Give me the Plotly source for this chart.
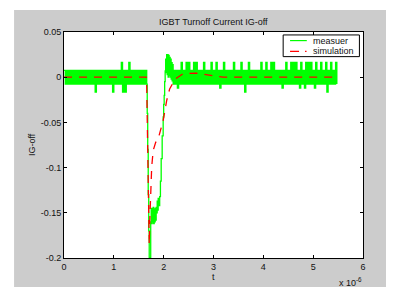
import plotly.graph_objects as go

# ---------------- data (time in microseconds, current in A) ----------------
# measured trace: noisy plateau before turn-off, one sample every 0.025 us from t=0
meas_pre_dt = 0.025
meas_pre = [
    0.0076, -0.0076, 0.0076, -0.0076, 0.0076, -0.0076, 0.0076, -0.0076, 0.0076, -0.0076,
    0.0076, -0.0076, 0.0076, -0.0076, 0.0076, -0.0076, 0.0076, -0.0076, 0.0076, -0.0076,
    0.0076, -0.0076, 0.0076, -0.0076, 0.0076, -0.0165, 0.0076, -0.0076, 0.0076, -0.0076,
    0.0076, -0.0076, 0.0076, -0.0076, 0.0076, -0.0076, 0.0076, -0.0076, 0.0076, -0.0165,
    0.0076, -0.0076, 0.0076, -0.0076, 0.0076, -0.0076, 0.0165, -0.0165, 0.0076, -0.0165,
    0.0076, -0.0076, 0.0165, -0.0076, 0.0076, -0.0076, 0.0076, -0.0076, 0.0076, -0.0076,
    0.0076, -0.0076, 0.0076, -0.0076, 0.0076, -0.0076, 0.0076,
]
# measured turn-off transient
meas_tr_t = [1.66, 1.67, 1.68, 1.69, 1.70, 1.71, 1.73, 1.74, 1.75, 1.76, 1.77, 1.78,
             1.79, 1.80, 1.81, 1.82, 1.83, 1.84, 1.85, 1.86, 1.87, 1.88, 1.89, 1.90,
             1.92, 1.935, 1.95, 1.97, 1.99, 2.00, 2.01, 2.02, 2.03, 2.04, 2.05, 2.06,
             2.07, 2.08, 2.09, 2.10, 2.11, 2.12, 2.13, 2.14, 2.15, 2.16, 2.17, 2.18, 2.19]
meas_tr_v = [-0.0076, -0.04, -0.08, -0.13, -0.17, -0.2, -0.2, -0.16, -0.145, -0.162, -0.145, -0.16,
             -0.144, -0.162, -0.146, -0.16, -0.145, -0.158, -0.144, -0.15, -0.137, -0.147, -0.134, -0.142,
             -0.132, -0.115, -0.09, -0.065, -0.044, -0.03, -0.02, -0.005, 0.007, 0.02, 0.005, 0.025,
             0.003, 0.025, 0.0, 0.024, 0.002, 0.022, 0.0, 0.02, -0.002, 0.016, -0.004, 0.014, -0.0076]
# measured trace: noisy plateau after turn-off, one sample every 0.025 us from t=2.2
meas_post_t0 = 2.2
meas_post = [
    0.0076, -0.0076, 0.0076, -0.012, 0.0076, -0.0076, 0.0165, -0.0076, 0.0076, -0.0076,
    0.0165, -0.0076, 0.0165, -0.0076, 0.0076, -0.0076, 0.0165, -0.0076, 0.0165, -0.0076,
    0.0076, -0.0076, 0.0076, -0.0076, 0.0165, -0.0076, 0.0076, -0.0076, 0.0076, -0.0076,
    0.0165, -0.0076, 0.0076, -0.0076, 0.0165, -0.0076, 0.0076, -0.012, 0.0076, -0.0076,
    0.0165, -0.0076, 0.0076, -0.0076, 0.0076, -0.0076, 0.0076, -0.0076, 0.0165, -0.0076,
    0.0076, -0.0076, 0.0076, -0.0076, 0.0165, -0.0076, 0.0076, -0.0165, 0.0076, -0.0076,
    0.0165, -0.0076, 0.0076, -0.0076, 0.0076, -0.0076, 0.0076, -0.0076, 0.0076, -0.0076,
    0.0165, -0.0076, 0.0076, -0.0076, 0.0165, -0.0076, 0.0076, -0.0076, 0.0165, -0.0076,
    0.0165, -0.0076, 0.0076, -0.0076, 0.0076, -0.0076, 0.0076, -0.012, 0.0076, -0.0076,
    0.0165, -0.0076, 0.0076, -0.0076, 0.0165, -0.0076, 0.0165, -0.0076, 0.0165, -0.0076,
    0.0076, -0.012, 0.0165, -0.0076, 0.0076, -0.012, 0.0165, -0.0076, 0.0165, -0.0076,
    0.0165, -0.0076, 0.0076, -0.012, 0.0165, -0.0076, 0.0076, -0.0076, 0.0165, -0.0076,
    0.0076, -0.0076, 0.0165, -0.0165, 0.0076, -0.0076, 0.0165, -0.0076, 0.0076, -0.0076,
    0.0165, -0.0076,
]

# simulation trace
sim_t = [0.0, 1.65, 1.66, 1.68, 1.70, 1.71, 1.72, 1.74, 1.76, 1.79, 1.84, 1.89,
         1.96, 1.99, 2.06, 2.12, 2.23, 2.39, 2.66, 2.87, 3.19, 5.47]
sim_v = [0.0, 0.0, -0.01, -0.1, -0.185, -0.185, -0.16, -0.132, -0.099, -0.081, -0.072, -0.068,
         -0.055, -0.048, -0.026, -0.013, -0.002, 0.004, 0.0045, 0.003, 0.0, 0.0]

x_tick_vals = [0, 1, 2, 3, 4, 5, 6]
x_tick_text = ["0", "1", "2", "3", "4", "5", "6"]
y_tick_vals = [0.05, 0.0, -0.05, -0.1, -0.15, -0.2]
y_tick_text = ["0.05", "0", "-0.05", "-0.1", "-0.15", "-0.2"]

title_text = "IGBT Turnoff Current IG-off"
x_label = "t"
y_label = "IG-off"
series_names = ["measuer", "simulation"]
series_colors = ["#00ff00", "#ff0000"]
legend_dash = ["solid", "9px,6px,1.5px,6px"]

# ---------------- assemble measured trace ----------------
meas_t = [round(i * meas_pre_dt, 4) for i in range(len(meas_pre))]
meas_v = list(meas_pre)
meas_t += meas_tr_t
meas_v += meas_tr_v
meas_t += [round(meas_post_t0 + i * meas_pre_dt, 4) for i in range(len(meas_post))]
meas_v += meas_post

FONT = "Liberation Sans, Arial, Helvetica, sans-serif"
GRAY = "#cccccc"
TXT = "#111111"

fig = go.Figure()
fig.add_trace(go.Scatter(x=meas_t, y=meas_v, mode="lines", name=series_names[0],
                         showlegend=False,
                         line=dict(color=series_colors[0], width=1.3, shape="hv")))
fig.add_trace(go.Scatter(x=sim_t, y=sim_v, mode="lines", name=series_names[1],
                         showlegend=False,
                         line=dict(color=series_colors[1], width=1.3, dash="8px,7px")))

axis_common = dict(showline=True, linecolor="black", linewidth=1, mirror="ticks",
                   ticks="inside", ticklen=3, tickcolor="black", tickwidth=1,
                   showgrid=False, zeroline=False,
                   tickfont=dict(family=FONT, size=9, color=TXT))

# manual legend (box, sample lines, labels) in paper coordinates
leg_x0, leg_x1, leg_y0, leg_y1 = 0.733, 0.988, 0.891, 0.987
leg_rows = [0.962, 0.914]
shapes = [
    # white page corners outside the gray figure frame
    dict(type="rect", xref="paper", yref="paper", x0=-0.3, x1=1.2, y0=1.097, y1=1.3,
         fillcolor="white", line=dict(width=0), layer="below"),
    dict(type="rect", xref="paper", yref="paper", x0=-0.3, x1=-0.167, y0=-0.3, y1=1.3,
         fillcolor="white", line=dict(width=0), layer="below"),
    dict(type="rect", xref="paper", yref="paper", x0=leg_x0, x1=leg_x1, y0=leg_y0, y1=leg_y1,
         fillcolor="white", line=dict(color="black", width=1), layer="above"),
]
annotations = [
    dict(text=title_text, xref="paper", yref="paper", x=0.5, y=1.044,
         xanchor="center", yanchor="middle", showarrow=False,
         font=dict(family=FONT, size=9, color=TXT)),
    dict(text=x_label, xref="paper", yref="paper", x=0.5, y=-0.083,
         xanchor="center", yanchor="middle", showarrow=False,
         font=dict(family=FONT, size=9, color=TXT)),
    dict(text=y_label, xref="paper", yref="paper", x=-0.107, y=0.5, textangle=-90,
         xanchor="center", yanchor="middle", showarrow=False,
         font=dict(family=FONT, size=9, color=TXT)),
    dict(text="x 10<sup>-6</sup>", xref="paper", yref="paper", x=1.002, y=-0.105,
         xanchor="right", yanchor="middle", showarrow=False,
         font=dict(family=FONT, size=9, color=TXT)),
]
for name, color, dash, ry in zip(series_names, series_colors, legend_dash, leg_rows):
    shapes.append(dict(type="line", xref="paper", yref="paper", x0=0.756, x1=0.812,
                       y0=ry, y1=ry, line=dict(color=color, width=1.2, dash=dash),
                       layer="above"))
    annotations.append(dict(text=name, xref="paper", yref="paper", x=0.826, y=ry,
                            xanchor="left", yanchor="middle", showarrow=False,
                            font=dict(family=FONT, size=9, color=TXT)))

# page body has an 8px margin, so the figure is 8px smaller than the window
fig.update_layout(
    width=386, height=279,
    margin=dict(l=56, r=31, t=24, b=29),
    paper_bgcolor=GRAY, plot_bgcolor="white",
    showlegend=False,
    xaxis=dict(range=[0, 6], tickvals=x_tick_vals, ticktext=x_tick_text, **axis_common),
    yaxis=dict(range=[-0.2, 0.05], tickvals=y_tick_vals, ticktext=y_tick_text, **axis_common),
    shapes=shapes,
    annotations=annotations,
)

fig.write_html("out.html")
